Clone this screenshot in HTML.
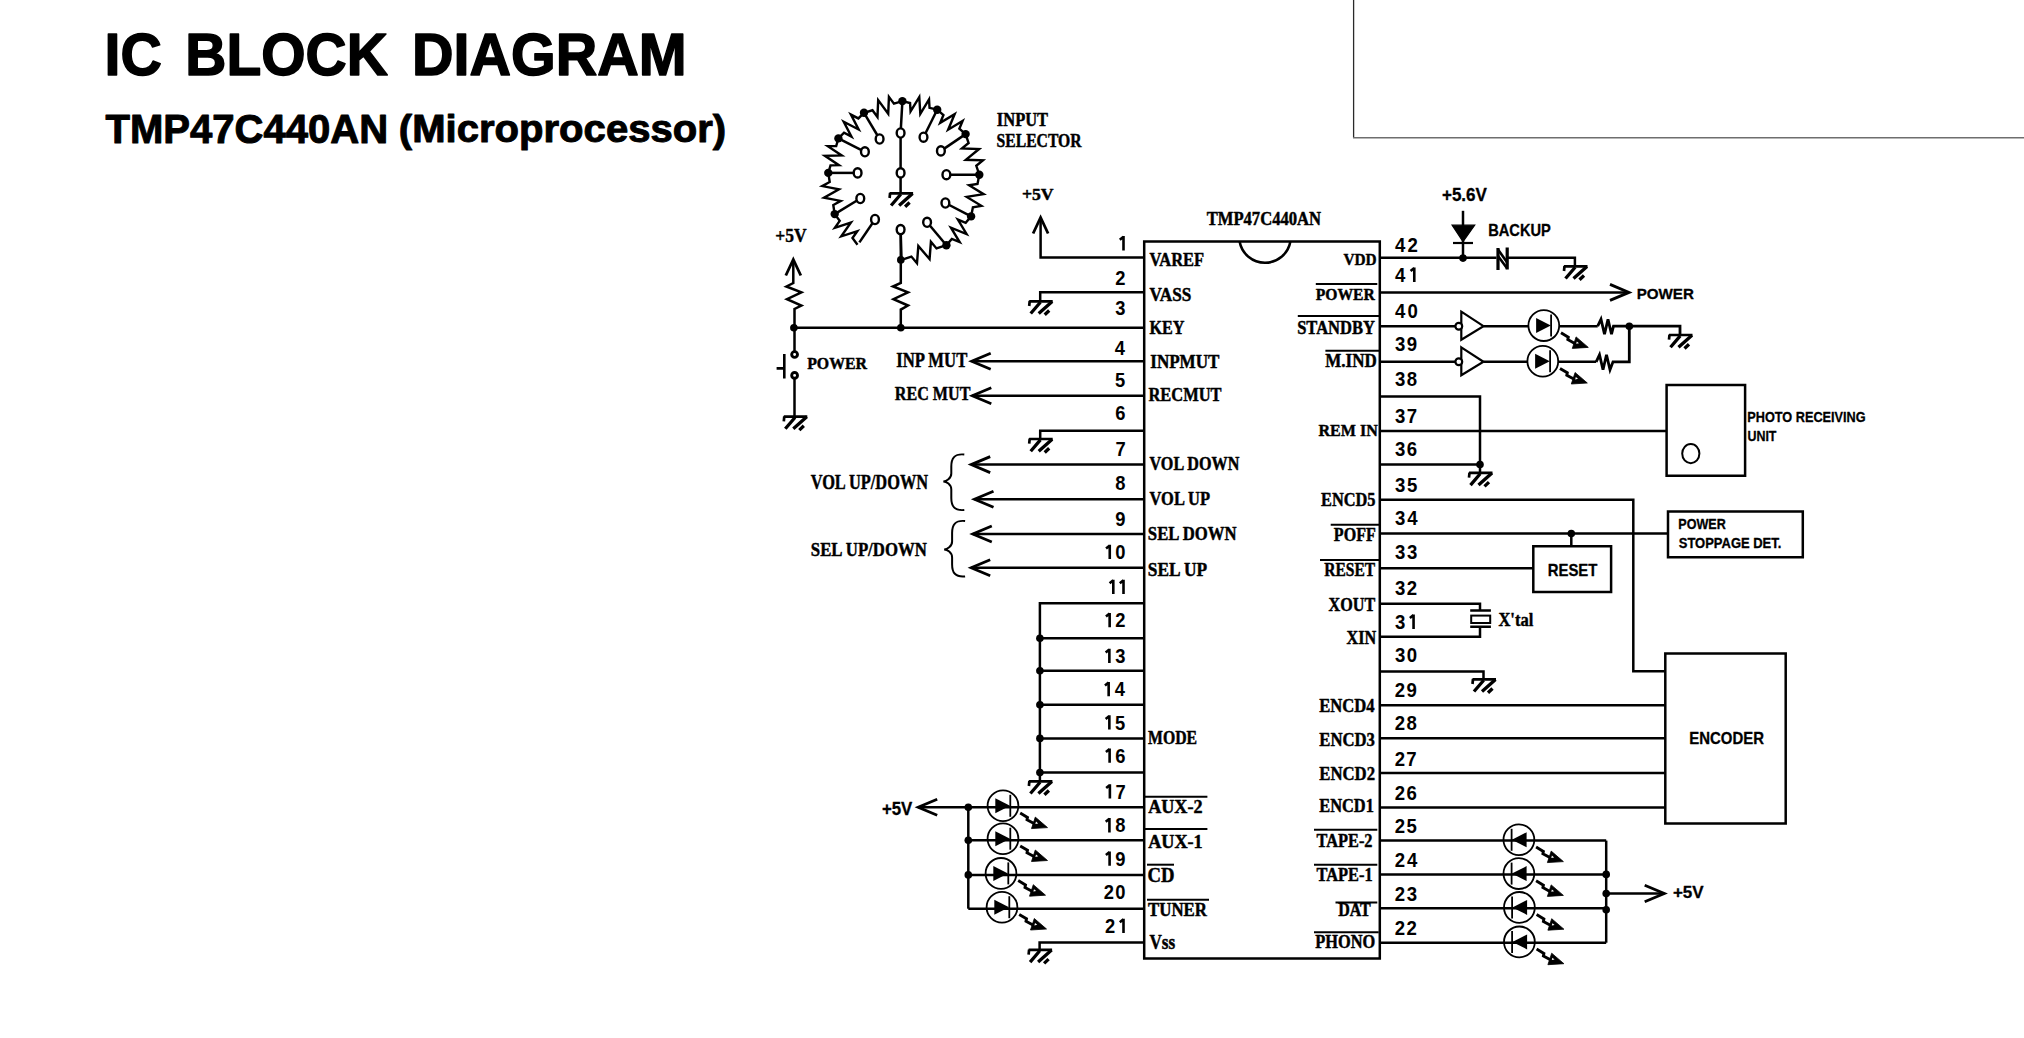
<!DOCTYPE html><html><head><meta charset="utf-8"><style>html,body{margin:0;padding:0;background:#fff;overflow:hidden}svg{display:block}</style></head><body>
<svg width="2024" height="1038" viewBox="0 0 2024 1038">
<rect width="2024" height="1038" fill="#fff"/>
<text transform="translate(104.52,75.15) scale(0.9568,1)" font-family='"Liberation Sans", sans-serif' font-size="59.88" font-weight="bold" fill="#000" stroke="#000" stroke-width="1.5" stroke-linejoin="round">IC</text>
<text transform="translate(185.34,75.15) scale(0.9518,1)" font-family='"Liberation Sans", sans-serif' font-size="59.88" font-weight="bold" fill="#000" stroke="#000" stroke-width="1.5" stroke-linejoin="round">BLOCK</text>
<text transform="translate(412.11,74.65) scale(0.9621,1)" font-family='"Liberation Sans", sans-serif' font-size="59.74" font-weight="bold" fill="#000" stroke="#000" stroke-width="1.5" stroke-linejoin="round">DIAGRAM</text>
<text transform="translate(105.45,142.50) scale(0.9886,1)" font-family='"Liberation Sans", sans-serif' font-size="40.55" font-weight="bold" fill="#000" stroke="#000" stroke-width="1.0" stroke-linejoin="round">TMP47C440AN</text>
<text transform="translate(398.80,141.90) scale(1.0104,1)" font-family='"Liberation Sans", sans-serif' font-size="39.68" font-weight="bold" fill="#000" stroke="#000" stroke-width="1.0" stroke-linejoin="round">(Microprocessor)</text>
<path d="M1353.6,0 V137.8" stroke="#2a2a2a" stroke-width="1.3" fill="none"/>
<path d="M1353,137.8 H2024" stroke="#6e6e6e" stroke-width="1.6" fill="none"/>
<path d="M1144.2,241.5 H1379.8 V958.5 H1144.2 Z" stroke="#000" stroke-width="2.5" fill="none" />
<path d="M1239.6,241.5 A25.8,25.8 0 0 0 1290.4,241.5" stroke="#000" stroke-width="2.5" fill="none" />
<path d="M1119.80,239.70 L1123.50,236.70 M1123.50,236.10 V250.40" stroke="#000" stroke-width="2.6" fill="none"/>
<text transform="translate(1115.32,285.10) scale(0.92,1)" font-family='"Liberation Sans", sans-serif' font-size="19.97" font-weight="bold">2</text>
<text transform="translate(1115.25,314.60) scale(0.92,1)" font-family='"Liberation Sans", sans-serif' font-size="19.97" font-weight="bold">3</text>
<text transform="translate(1114.68,355.30) scale(0.92,1)" font-family='"Liberation Sans", sans-serif' font-size="19.97" font-weight="bold">4</text>
<text transform="translate(1115.09,387.40) scale(0.92,1)" font-family='"Liberation Sans", sans-serif' font-size="19.97" font-weight="bold">5</text>
<text transform="translate(1115.25,420.40) scale(0.92,1)" font-family='"Liberation Sans", sans-serif' font-size="19.97" font-weight="bold">6</text>
<text transform="translate(1115.39,456.00) scale(0.92,1)" font-family='"Liberation Sans", sans-serif' font-size="19.97" font-weight="bold">7</text>
<text transform="translate(1115.15,489.80) scale(0.92,1)" font-family='"Liberation Sans", sans-serif' font-size="19.97" font-weight="bold">8</text>
<text transform="translate(1115.26,526.20) scale(0.92,1)" font-family='"Liberation Sans", sans-serif' font-size="19.97" font-weight="bold">9</text>
<path d="M1106.06,548.40 L1109.76,545.40 M1109.76,544.80 V559.10" stroke="#000" stroke-width="2.6" fill="none"/>
<text transform="translate(1115.33,559.10) scale(0.92,1)" font-family='"Liberation Sans", sans-serif' font-size="19.97" font-weight="bold">0</text>
<path d="M1109.60,583.30 L1113.30,580.30 M1113.30,579.70 V594.00" stroke="#000" stroke-width="2.6" fill="none"/>
<path d="M1119.80,583.30 L1123.50,580.30 M1123.50,579.70 V594.00" stroke="#000" stroke-width="2.6" fill="none"/>
<path d="M1105.95,616.50 L1109.65,613.50 M1109.65,612.90 V627.20" stroke="#000" stroke-width="2.6" fill="none"/>
<text transform="translate(1115.32,627.20) scale(0.92,1)" font-family='"Liberation Sans", sans-serif' font-size="19.97" font-weight="bold">2</text>
<path d="M1105.67,652.40 L1109.37,649.40 M1109.37,648.80 V663.10" stroke="#000" stroke-width="2.6" fill="none"/>
<text transform="translate(1115.25,663.10) scale(0.92,1)" font-family='"Liberation Sans", sans-serif' font-size="19.97" font-weight="bold">3</text>
<path d="M1104.96,685.60 L1108.66,682.60 M1108.66,682.00 V696.30" stroke="#000" stroke-width="2.6" fill="none"/>
<text transform="translate(1114.68,696.30) scale(0.92,1)" font-family='"Liberation Sans", sans-serif' font-size="19.97" font-weight="bold">4</text>
<path d="M1105.66,718.90 L1109.36,715.90 M1109.36,715.30 V729.60" stroke="#000" stroke-width="2.6" fill="none"/>
<text transform="translate(1115.09,729.60) scale(0.92,1)" font-family='"Liberation Sans", sans-serif' font-size="19.97" font-weight="bold">5</text>
<path d="M1105.92,752.10 L1109.62,749.10 M1109.62,748.50 V762.80" stroke="#000" stroke-width="2.6" fill="none"/>
<text transform="translate(1115.25,762.80) scale(0.92,1)" font-family='"Liberation Sans", sans-serif' font-size="19.97" font-weight="bold">6</text>
<path d="M1106.18,787.90 L1109.88,784.90 M1109.88,784.30 V798.60" stroke="#000" stroke-width="2.6" fill="none"/>
<text transform="translate(1115.39,798.60) scale(0.92,1)" font-family='"Liberation Sans", sans-serif' font-size="19.97" font-weight="bold">7</text>
<path d="M1105.73,821.70 L1109.43,818.70 M1109.43,818.10 V832.40" stroke="#000" stroke-width="2.6" fill="none"/>
<text transform="translate(1115.15,832.40) scale(0.92,1)" font-family='"Liberation Sans", sans-serif' font-size="19.97" font-weight="bold">8</text>
<path d="M1105.90,855.10 L1109.60,852.10 M1109.60,851.50 V865.80" stroke="#000" stroke-width="2.6" fill="none"/>
<text transform="translate(1115.26,865.80) scale(0.92,1)" font-family='"Liberation Sans", sans-serif' font-size="19.97" font-weight="bold">9</text>
<text transform="translate(1103.78,899.20) scale(0.92,1)" font-family='"Liberation Sans", sans-serif' font-size="19.97" font-weight="bold">2</text>
<text transform="translate(1115.33,899.20) scale(0.92,1)" font-family='"Liberation Sans", sans-serif' font-size="19.97" font-weight="bold">0</text>
<text transform="translate(1105.12,933.00) scale(0.92,1)" font-family='"Liberation Sans", sans-serif' font-size="19.97" font-weight="bold">2</text>
<path d="M1119.80,922.30 L1123.50,919.30 M1123.50,918.70 V933.00" stroke="#000" stroke-width="2.6" fill="none"/>
<text transform="translate(1395.12,251.70) scale(0.92,1)" font-family='"Liberation Sans", sans-serif' font-size="20.25" font-weight="bold">4</text>
<text transform="translate(1407.53,251.70) scale(0.92,1)" font-family='"Liberation Sans", sans-serif' font-size="20.25" font-weight="bold">2</text>
<text transform="translate(1395.12,282.00) scale(0.92,1)" font-family='"Liberation Sans", sans-serif' font-size="20.25" font-weight="bold">4</text>
<path d="M1410.58,271.10 L1414.28,268.10 M1414.28,267.50 V282.00" stroke="#000" stroke-width="2.6" fill="none"/>
<text transform="translate(1395.12,318.40) scale(0.92,1)" font-family='"Liberation Sans", sans-serif' font-size="20.25" font-weight="bold">4</text>
<text transform="translate(1407.44,318.40) scale(0.92,1)" font-family='"Liberation Sans", sans-serif' font-size="20.25" font-weight="bold">0</text>
<text transform="translate(1394.97,351.40) scale(0.92,1)" font-family='"Liberation Sans", sans-serif' font-size="20.25" font-weight="bold">3</text>
<text transform="translate(1406.82,351.40) scale(0.92,1)" font-family='"Liberation Sans", sans-serif' font-size="20.25" font-weight="bold">9</text>
<text transform="translate(1394.97,386.00) scale(0.92,1)" font-family='"Liberation Sans", sans-serif' font-size="20.25" font-weight="bold">3</text>
<text transform="translate(1406.87,386.00) scale(0.92,1)" font-family='"Liberation Sans", sans-serif' font-size="20.25" font-weight="bold">8</text>
<text transform="translate(1394.97,423.40) scale(0.92,1)" font-family='"Liberation Sans", sans-serif' font-size="20.25" font-weight="bold">3</text>
<text transform="translate(1406.66,423.40) scale(0.92,1)" font-family='"Liberation Sans", sans-serif' font-size="20.25" font-weight="bold">7</text>
<text transform="translate(1394.97,456.00) scale(0.92,1)" font-family='"Liberation Sans", sans-serif' font-size="20.25" font-weight="bold">3</text>
<text transform="translate(1406.78,456.00) scale(0.92,1)" font-family='"Liberation Sans", sans-serif' font-size="20.25" font-weight="bold">6</text>
<text transform="translate(1394.97,491.50) scale(0.92,1)" font-family='"Liberation Sans", sans-serif' font-size="20.25" font-weight="bold">3</text>
<text transform="translate(1406.89,491.50) scale(0.92,1)" font-family='"Liberation Sans", sans-serif' font-size="20.25" font-weight="bold">5</text>
<text transform="translate(1394.97,524.80) scale(0.92,1)" font-family='"Liberation Sans", sans-serif' font-size="20.25" font-weight="bold">3</text>
<text transform="translate(1407.18,524.80) scale(0.92,1)" font-family='"Liberation Sans", sans-serif' font-size="20.25" font-weight="bold">4</text>
<text transform="translate(1394.97,559.10) scale(0.92,1)" font-family='"Liberation Sans", sans-serif' font-size="20.25" font-weight="bold">3</text>
<text transform="translate(1407.03,559.10) scale(0.92,1)" font-family='"Liberation Sans", sans-serif' font-size="20.25" font-weight="bold">3</text>
<text transform="translate(1394.97,594.60) scale(0.92,1)" font-family='"Liberation Sans", sans-serif' font-size="20.25" font-weight="bold">3</text>
<text transform="translate(1406.82,594.60) scale(0.92,1)" font-family='"Liberation Sans", sans-serif' font-size="20.25" font-weight="bold">2</text>
<text transform="translate(1394.97,629.00) scale(0.92,1)" font-family='"Liberation Sans", sans-serif' font-size="20.25" font-weight="bold">3</text>
<path d="M1409.86,618.10 L1413.56,615.10 M1413.56,614.50 V629.00" stroke="#000" stroke-width="2.6" fill="none"/>
<text transform="translate(1394.97,661.90) scale(0.92,1)" font-family='"Liberation Sans", sans-serif' font-size="20.25" font-weight="bold">3</text>
<text transform="translate(1406.72,661.90) scale(0.92,1)" font-family='"Liberation Sans", sans-serif' font-size="20.25" font-weight="bold">0</text>
<text transform="translate(1394.75,696.60) scale(0.92,1)" font-family='"Liberation Sans", sans-serif' font-size="20.25" font-weight="bold">2</text>
<text transform="translate(1406.52,696.60) scale(0.92,1)" font-family='"Liberation Sans", sans-serif' font-size="20.25" font-weight="bold">9</text>
<text transform="translate(1394.75,729.50) scale(0.92,1)" font-family='"Liberation Sans", sans-serif' font-size="20.25" font-weight="bold">2</text>
<text transform="translate(1406.58,729.50) scale(0.92,1)" font-family='"Liberation Sans", sans-serif' font-size="20.25" font-weight="bold">8</text>
<text transform="translate(1394.75,766.00) scale(0.92,1)" font-family='"Liberation Sans", sans-serif' font-size="20.25" font-weight="bold">2</text>
<text transform="translate(1406.37,766.00) scale(0.92,1)" font-family='"Liberation Sans", sans-serif' font-size="20.25" font-weight="bold">7</text>
<text transform="translate(1394.75,799.50) scale(0.92,1)" font-family='"Liberation Sans", sans-serif' font-size="20.25" font-weight="bold">2</text>
<text transform="translate(1406.49,799.50) scale(0.92,1)" font-family='"Liberation Sans", sans-serif' font-size="20.25" font-weight="bold">6</text>
<text transform="translate(1394.75,832.80) scale(0.92,1)" font-family='"Liberation Sans", sans-serif' font-size="20.25" font-weight="bold">2</text>
<text transform="translate(1406.60,832.80) scale(0.92,1)" font-family='"Liberation Sans", sans-serif' font-size="20.25" font-weight="bold">5</text>
<text transform="translate(1394.75,867.00) scale(0.92,1)" font-family='"Liberation Sans", sans-serif' font-size="20.25" font-weight="bold">2</text>
<text transform="translate(1406.89,867.00) scale(0.92,1)" font-family='"Liberation Sans", sans-serif' font-size="20.25" font-weight="bold">4</text>
<text transform="translate(1394.75,901.00) scale(0.92,1)" font-family='"Liberation Sans", sans-serif' font-size="20.25" font-weight="bold">2</text>
<text transform="translate(1406.74,901.00) scale(0.92,1)" font-family='"Liberation Sans", sans-serif' font-size="20.25" font-weight="bold">3</text>
<text transform="translate(1394.75,934.60) scale(0.92,1)" font-family='"Liberation Sans", sans-serif' font-size="20.25" font-weight="bold">2</text>
<text transform="translate(1406.52,934.60) scale(0.92,1)" font-family='"Liberation Sans", sans-serif' font-size="20.25" font-weight="bold">2</text>
<text transform="translate(1206.67,224.78) scale(0.9179,1)" font-family='"Liberation Serif", serif' font-size="18.10" font-weight="bold" fill="#000" stroke="#000" stroke-width="0.45" stroke-linejoin="round">TMP47C440AN</text>
<text transform="translate(1149.54,266.47) scale(0.8803,1)" font-family='"Liberation Serif", serif' font-size="18.71" font-weight="bold" fill="#000" stroke="#000" stroke-width="0.45" stroke-linejoin="round">VAREF</text>
<text transform="translate(1149.53,301.47) scale(0.9194,1)" font-family='"Liberation Serif", serif' font-size="18.71" font-weight="bold" fill="#000" stroke="#000" stroke-width="0.45" stroke-linejoin="round">VASS</text>
<text transform="translate(1149.45,334.27) scale(0.8667,1)" font-family='"Liberation Serif", serif' font-size="18.71" font-weight="bold" fill="#000" stroke="#000" stroke-width="0.45" stroke-linejoin="round">KEY</text>
<text transform="translate(1150.25,368.17) scale(0.9119,1)" font-family='"Liberation Serif", serif' font-size="18.71" font-weight="bold" fill="#000" stroke="#000" stroke-width="0.45" stroke-linejoin="round">INPMUT</text>
<text transform="translate(1148.44,401.07) scale(0.8801,1)" font-family='"Liberation Serif", serif' font-size="18.71" font-weight="bold" fill="#000" stroke="#000" stroke-width="0.45" stroke-linejoin="round">RECMUT</text>
<text transform="translate(1149.54,470.47) scale(0.8630,1)" font-family='"Liberation Serif", serif' font-size="18.71" font-weight="bold" fill="#000" stroke="#000" stroke-width="0.45" stroke-linejoin="round">VOL DOWN</text>
<text transform="translate(1149.54,505.47) scale(0.8795,1)" font-family='"Liberation Serif", serif' font-size="18.71" font-weight="bold" fill="#000" stroke="#000" stroke-width="0.45" stroke-linejoin="round">VOL UP</text>
<text transform="translate(1147.84,540.38) scale(0.9011,1)" font-family='"Liberation Serif", serif' font-size="18.56" font-weight="bold" fill="#000" stroke="#000" stroke-width="0.45" stroke-linejoin="round">SEL DOWN</text>
<text transform="translate(1147.80,576.38) scale(0.9351,1)" font-family='"Liberation Serif", serif' font-size="18.56" font-weight="bold" fill="#000" stroke="#000" stroke-width="0.45" stroke-linejoin="round">SEL UP</text>
<text transform="translate(1148.06,744.48) scale(0.8876,1)" font-family='"Liberation Serif", serif' font-size="17.79" font-weight="bold" fill="#000" stroke="#000" stroke-width="0.45" stroke-linejoin="round">MODE</text>
<text transform="translate(1148.15,813.27) scale(1.0195,1)" font-family='"Liberation Serif", serif' font-size="17.79" font-weight="bold" fill="#000" stroke="#000" stroke-width="0.45" stroke-linejoin="round">AUX-2</text>
<text transform="translate(1148.15,848.38) scale(1.0138,1)" font-family='"Liberation Serif", serif' font-size="17.94" font-weight="bold" fill="#000" stroke="#000" stroke-width="0.45" stroke-linejoin="round">AUX-1</text>
<text transform="translate(1147.41,882.07) scale(0.9370,1)" font-family='"Liberation Serif", serif' font-size="19.93" font-weight="bold" fill="#000" stroke="#000" stroke-width="0.45" stroke-linejoin="round">CD</text>
<text transform="translate(1148.06,915.77) scale(0.9387,1)" font-family='"Liberation Serif", serif' font-size="17.94" font-weight="bold" fill="#000" stroke="#000" stroke-width="0.45" stroke-linejoin="round">TUNER</text>
<text transform="translate(1149.43,949.48) scale(0.8615,1)" font-family='"Liberation Serif", serif' font-size="19.93" font-weight="bold" fill="#000" stroke="#000" stroke-width="0.45" stroke-linejoin="round">Vss</text>
<text transform="translate(1343.45,265.47) scale(0.8939,1)" font-family='"Liberation Serif", serif' font-size="17.18" font-weight="bold" fill="#000" stroke="#000" stroke-width="0.45" stroke-linejoin="round">VDD</text>
<text transform="translate(1315.76,300.38) scale(0.9184,1)" font-family='"Liberation Serif", serif' font-size="17.03" font-weight="bold" fill="#000" stroke="#000" stroke-width="0.45" stroke-linejoin="round">POWER</text>
<text transform="translate(1297.14,334.27) scale(0.8853,1)" font-family='"Liberation Serif", serif' font-size="18.71" font-weight="bold" fill="#000" stroke="#000" stroke-width="0.45" stroke-linejoin="round">STANDBY</text>
<text transform="translate(1325.33,367.17) scale(0.9088,1)" font-family='"Liberation Serif", serif' font-size="18.71" font-weight="bold" fill="#000" stroke="#000" stroke-width="0.45" stroke-linejoin="round">M.IND</text>
<text transform="translate(1318.45,436.17) scale(0.9348,1)" font-family='"Liberation Serif", serif' font-size="17.18" font-weight="bold" fill="#000" stroke="#000" stroke-width="0.45" stroke-linejoin="round">REM IN</text>
<text transform="translate(1321.05,506.47) scale(0.8744,1)" font-family='"Liberation Serif", serif' font-size="18.71" font-weight="bold" fill="#000" stroke="#000" stroke-width="0.45" stroke-linejoin="round">ENCD5</text>
<text transform="translate(1333.85,541.48) scale(0.8578,1)" font-family='"Liberation Serif", serif' font-size="18.71" font-weight="bold" fill="#000" stroke="#000" stroke-width="0.45" stroke-linejoin="round">POFF</text>
<text transform="translate(1324.26,576.38) scale(0.8373,1)" font-family='"Liberation Serif", serif' font-size="18.56" font-weight="bold" fill="#000" stroke="#000" stroke-width="0.45" stroke-linejoin="round">RESET</text>
<text transform="translate(1328.53,611.38) scale(0.8710,1)" font-family='"Liberation Serif", serif' font-size="18.56" font-weight="bold" fill="#000" stroke="#000" stroke-width="0.45" stroke-linejoin="round">XOUT</text>
<text transform="translate(1346.52,644.17) scale(0.8648,1)" font-family='"Liberation Serif", serif' font-size="18.71" font-weight="bold" fill="#000" stroke="#000" stroke-width="0.45" stroke-linejoin="round">XIN</text>
<text transform="translate(1319.24,712.17) scale(0.9268,1)" font-family='"Liberation Serif", serif' font-size="17.94" font-weight="bold" fill="#000" stroke="#000" stroke-width="0.45" stroke-linejoin="round">ENCD4</text>
<text transform="translate(1319.24,745.88) scale(0.9392,1)" font-family='"Liberation Serif", serif' font-size="17.79" font-weight="bold" fill="#000" stroke="#000" stroke-width="0.45" stroke-linejoin="round">ENCD3</text>
<text transform="translate(1319.24,779.57) scale(0.9338,1)" font-family='"Liberation Serif", serif' font-size="17.94" font-weight="bold" fill="#000" stroke="#000" stroke-width="0.45" stroke-linejoin="round">ENCD2</text>
<text transform="translate(1319.24,811.88) scale(0.9219,1)" font-family='"Liberation Serif", serif' font-size="17.79" font-weight="bold" fill="#000" stroke="#000" stroke-width="0.45" stroke-linejoin="round">ENCD1</text>
<text transform="translate(1316.57,846.98) scale(0.9109,1)" font-family='"Liberation Serif", serif' font-size="17.94" font-weight="bold" fill="#000" stroke="#000" stroke-width="0.45" stroke-linejoin="round">TAPE-2</text>
<text transform="translate(1316.57,880.77) scale(0.9132,1)" font-family='"Liberation Serif", serif' font-size="17.94" font-weight="bold" fill="#000" stroke="#000" stroke-width="0.45" stroke-linejoin="round">TAPE-1</text>
<text transform="translate(1338.14,915.77) scale(0.8941,1)" font-family='"Liberation Serif", serif' font-size="17.94" font-weight="bold" fill="#000" stroke="#000" stroke-width="0.45" stroke-linejoin="round">DAT</text>
<text transform="translate(1315.25,948.07) scale(0.9186,1)" font-family='"Liberation Serif", serif' font-size="17.79" font-weight="bold" fill="#000" stroke="#000" stroke-width="0.45" stroke-linejoin="round">PHONO</text>
<path d="M1144.5,796.8 H1207.4" stroke="#000" stroke-width="2.0" fill="none" />
<path d="M1144.5,829.1 H1207.4" stroke="#000" stroke-width="2.0" fill="none" />
<path d="M1147,864.7 H1174" stroke="#000" stroke-width="2.0" fill="none" />
<path d="M1147,899.8 H1209" stroke="#000" stroke-width="2.0" fill="none" />
<path d="M1315.8,284.1 H1377.3" stroke="#000" stroke-width="2.0" fill="none" />
<path d="M1297.8,316.1 H1379.4" stroke="#000" stroke-width="2.0" fill="none" />
<path d="M1325.4,350.8 H1379.4" stroke="#000" stroke-width="2.0" fill="none" />
<path d="M1330.7,524.7 H1379.8" stroke="#000" stroke-width="2.0" fill="none" />
<path d="M1320,560.1 H1379.8" stroke="#000" stroke-width="2.0" fill="none" />
<path d="M1314,829.7 H1377.3" stroke="#000" stroke-width="2.0" fill="none" />
<path d="M1314,864.7 H1377.3" stroke="#000" stroke-width="2.0" fill="none" />
<path d="M1335.5,902.5 H1377.3" stroke="#000" stroke-width="2.0" fill="none" />
<path d="M1314,932.2 H1378.7" stroke="#000" stroke-width="2.0" fill="none" />
<path d="M1040.6,219 V257.5 H1144.2" stroke="#000" stroke-width="2.5" fill="none" />
<path d="M1033.1,233.5 L1040.6,217.5 L1048.1,233.5" stroke="#000" stroke-width="2.8" fill="none" />
<text transform="translate(1021.89,200.47) scale(1.0510,1)" font-family='"Liberation Serif", serif' font-size="16.88" font-weight="bold" fill="#000" stroke="#000" stroke-width="0.45" stroke-linejoin="round">+5V</text>
<path d="M1144.2,292.2 H1040.2 V301" stroke="#000" stroke-width="2.5" fill="none" />
<path d="M1029.2,301.3 H1052.7 M1029.7,301 L1029.2,306" stroke="#000" stroke-width="2.7" fill="none" />
<path d="M1030.7,313.5 L1040.4,302.2 M1038.7,313.5 L1052.2,301.5 M1044.7,314.8 L1049.2,310.5" stroke="#000" stroke-width="3.3" fill="none" />
<path d="M793.9,327.8 H1144.2" stroke="#000" stroke-width="2.5" fill="none" />
<path d="M971.7,361.2 H1144.2" stroke="#000" stroke-width="2.5" fill="none" />
<path d="M990.7,353.2 L971.7,361.2 L990.7,369.2" stroke="#000" stroke-width="2.8" fill="none" stroke-linejoin="miter"/>
<path d="M972.3,395.7 H1144.2" stroke="#000" stroke-width="2.5" fill="none" />
<path d="M991.3,387.7 L972.3,395.7 L991.3,403.7" stroke="#000" stroke-width="2.8" fill="none" stroke-linejoin="miter"/>
<text transform="translate(896.26,366.97) scale(0.8138,1)" font-family='"Liberation Serif", serif' font-size="20.54" font-weight="bold" fill="#000" stroke="#000" stroke-width="0.45" stroke-linejoin="round">INP MUT</text>
<text transform="translate(894.75,400.47) scale(0.8225,1)" font-family='"Liberation Serif", serif' font-size="19.62" font-weight="bold" fill="#000" stroke="#000" stroke-width="0.45" stroke-linejoin="round">REC MUT</text>
<path d="M1144.2,430.8 H1040.2 V438.7" stroke="#000" stroke-width="2.5" fill="none" />
<path d="M1029.2,439.0 H1052.7 M1029.7,438.7 L1029.2,443.7" stroke="#000" stroke-width="2.7" fill="none" />
<path d="M1030.7,451.2 L1040.4,439.9 M1038.7,451.2 L1052.2,439.2 M1044.7,452.5 L1049.2,448.2" stroke="#000" stroke-width="3.3" fill="none" />
<path d="M971.2,464.6 H1144.2" stroke="#000" stroke-width="2.5" fill="none" />
<path d="M990.2,456.6 L971.2,464.6 L990.2,472.6" stroke="#000" stroke-width="2.8" fill="none" stroke-linejoin="miter"/>
<path d="M974.5,499.3 H1144.2" stroke="#000" stroke-width="2.5" fill="none" />
<path d="M993.5,491.3 L974.5,499.3 L993.5,507.3" stroke="#000" stroke-width="2.8" fill="none" stroke-linejoin="miter"/>
<path d="M972.8,534.0 H1144.2" stroke="#000" stroke-width="2.5" fill="none" />
<path d="M991.8,526.0 L972.8,534.0 L991.8,542.0" stroke="#000" stroke-width="2.8" fill="none" stroke-linejoin="miter"/>
<path d="M971.2,567.8 H1144.2" stroke="#000" stroke-width="2.5" fill="none" />
<path d="M990.2,559.8 L971.2,567.8 L990.2,575.8" stroke="#000" stroke-width="2.8" fill="none" stroke-linejoin="miter"/>
<text transform="translate(810.64,489.38) scale(0.7974,1)" font-family='"Liberation Serif", serif' font-size="20.54" font-weight="bold" fill="#000" stroke="#000" stroke-width="0.45" stroke-linejoin="round">VOL UP/DOWN</text>
<text transform="translate(810.83,555.77) scale(0.8682,1)" font-family='"Liberation Serif", serif' font-size="19.32" font-weight="bold" fill="#000" stroke="#000" stroke-width="0.45" stroke-linejoin="round">SEL UP/DOWN</text>
<path d="M964.3,454.5 C954.3,453.5 951.3,458.5 951.3,466.5 V473.4 C951.3,478.4 946.3,481.4 943.3,481.4 C946.3,481.4 951.3,484.4 951.3,489.4 V498 C951.3,506 954.3,511 964.3,510" stroke="#000" stroke-width="2.0" fill="none" />
<path d="M965.1,521 C955.1,520 952.1,525 952.1,533 V541.4 C952.1,546.4 947.1,549.4 944.1,549.4 C947.1,549.4 952.1,552.4 952.1,557.4 V564.4 C952.1,572.4 955.1,577.4 965.1,576.4" stroke="#000" stroke-width="2.0" fill="none" />
<path d="M1144.2,603.2 H1039.9 V780.5" stroke="#000" stroke-width="2.5" fill="none" />
<path d="M1039.9,638.2 H1144.2" stroke="#000" stroke-width="2.5" fill="none" />
<circle cx="1039.90" cy="638.20" r="3.8" fill="#000"/>
<path d="M1039.9,670.8 H1144.2" stroke="#000" stroke-width="2.5" fill="none" />
<circle cx="1039.90" cy="670.80" r="3.8" fill="#000"/>
<path d="M1039.9,704.7 H1144.2" stroke="#000" stroke-width="2.5" fill="none" />
<circle cx="1039.90" cy="704.70" r="3.8" fill="#000"/>
<path d="M1039.9,738.4 H1144.2" stroke="#000" stroke-width="2.5" fill="none" />
<circle cx="1039.90" cy="738.40" r="3.8" fill="#000"/>
<path d="M1039.9,772.6 H1144.2" stroke="#000" stroke-width="2.5" fill="none" />
<circle cx="1039.90" cy="772.60" r="3.8" fill="#000"/>
<path d="M1028.9,781.3 H1052.4 M1029.4,781 L1028.9,786" stroke="#000" stroke-width="2.7" fill="none" />
<path d="M1030.4,793.5 L1040.1000000000001,782.2 M1038.4,793.5 L1051.9,781.5 M1044.4,794.8 L1048.9,790.5" stroke="#000" stroke-width="3.3" fill="none" />
<path d="M918.2,807.3 H1144.2" stroke="#000" stroke-width="2.5" fill="none" />
<path d="M937.2,799.3 L918.2,807.3 L937.2,815.3" stroke="#000" stroke-width="2.8" fill="none" stroke-linejoin="miter"/>
<text transform="translate(881.94,814.55) scale(0.9493,1)" font-family='"Liberation Sans", sans-serif' font-size="17.73" font-weight="bold" fill="#000" stroke="#000" stroke-width="0.3" stroke-linejoin="round">+5V</text>
<path d="M968.3,807.3 V908.7" stroke="#000" stroke-width="2.5" fill="none" />
<circle cx="968.30" cy="807.30" r="3.8" fill="#000"/>
<circle cx="968.30" cy="840.20" r="3.8" fill="#000"/>
<circle cx="968.30" cy="874.90" r="3.8" fill="#000"/>
<path d="M968.3,840.2 H1144.2" stroke="#000" stroke-width="2.5" fill="none" />
<path d="M968.3,874.9 H1144.2" stroke="#000" stroke-width="2.5" fill="none" />
<path d="M968.3,908.7 H1144.2" stroke="#000" stroke-width="2.5" fill="none" />
<circle cx="1003.00" cy="805.80" r="15.4" fill="none" stroke="#000" stroke-width="1.8"/>
<path d="M995.3,798.3 L1010,805.8 L995.3,813.3 Z" fill="#000"/>
<path d="M1010.3,794.8 V816.8" stroke="#000" stroke-width="1.8" fill="none" />
<path d="M1020.2,813.0 L1027.5,817.4 L1027,819.8 L1034,823.5999999999999" stroke="#000" stroke-width="2.9" fill="none" />
<path d="M1047.5,827.5999999999999 L1035.3,817.0999999999999 L1031.5,828.5999999999999 Z" fill="#000" stroke="#000" stroke-width="0.8" stroke-linejoin="round"/>
<path d="M1038.2,823.4 L1036,821.5999999999999 L1035.4,824.0 Z" fill="#fff"/>
<circle cx="1003.00" cy="838.70" r="15.4" fill="none" stroke="#000" stroke-width="1.8"/>
<path d="M995.3,831.2 L1010,838.7 L995.3,846.2 Z" fill="#000"/>
<path d="M1010.3,827.7 V849.7" stroke="#000" stroke-width="1.8" fill="none" />
<path d="M1020.2,845.9000000000001 L1027.5,850.3000000000001 L1027,852.7 L1034,856.5" stroke="#000" stroke-width="2.9" fill="none" />
<path d="M1047.5,860.5 L1035.3,850.0 L1031.5,861.5 Z" fill="#000" stroke="#000" stroke-width="0.8" stroke-linejoin="round"/>
<path d="M1038.2,856.3000000000001 L1036,854.5 L1035.4,856.9000000000001 Z" fill="#fff"/>
<circle cx="1001.00" cy="873.40" r="15.4" fill="none" stroke="#000" stroke-width="1.8"/>
<path d="M993.3,865.9 L1008,873.4 L993.3,880.9 Z" fill="#000"/>
<path d="M1008.3,862.4 V884.4" stroke="#000" stroke-width="1.8" fill="none" />
<path d="M1018.2,880.6 L1025.5,885.0 L1025,887.4 L1032,891.1999999999999" stroke="#000" stroke-width="2.9" fill="none" />
<path d="M1045.5,895.1999999999999 L1033.3,884.6999999999999 L1029.5,896.1999999999999 Z" fill="#000" stroke="#000" stroke-width="0.8" stroke-linejoin="round"/>
<path d="M1036.2,891.0 L1034,889.1999999999999 L1033.4,891.6 Z" fill="#fff"/>
<circle cx="1002.00" cy="907.20" r="15.4" fill="none" stroke="#000" stroke-width="1.8"/>
<path d="M994.3,899.7 L1009,907.2 L994.3,914.7 Z" fill="#000"/>
<path d="M1009.3,896.2 V918.2" stroke="#000" stroke-width="1.8" fill="none" />
<path d="M1019.2,914.4000000000001 L1026.5,918.8000000000001 L1026,921.2 L1033,925.0" stroke="#000" stroke-width="2.9" fill="none" />
<path d="M1046.5,929.0 L1034.3,918.5 L1030.5,930.0 Z" fill="#000" stroke="#000" stroke-width="0.8" stroke-linejoin="round"/>
<path d="M1037.2,924.8000000000001 L1035,923.0 L1034.4,925.4000000000001 Z" fill="#fff"/>
<path d="M1144.2,942.5 H1039.6 V949.6" stroke="#000" stroke-width="2.5" fill="none" />
<path d="M1028.6,949.9 H1052.1 M1029.1,949.6 L1028.6,954.6" stroke="#000" stroke-width="2.7" fill="none" />
<path d="M1030.1,962.1 L1039.8,950.8000000000001 M1038.1,962.1 L1051.6,950.1 M1044.1,963.4 L1048.6,959.1" stroke="#000" stroke-width="3.3" fill="none" />
<path d="M793.3,261 V283 L786.4,286.5 L801.4,292.3 L787,299.2 L801.4,305.5 L794.5,309 V327.8 V351.5" stroke="#000" stroke-width="2.5" fill="none" />
<path d="M785.8,275.5 L793.3,259.5 L800.8,275.5" stroke="#000" stroke-width="2.8" fill="none" />
<text transform="translate(775.30,241.78) scale(0.9103,1)" font-family='"Liberation Serif", serif' font-size="19.17" font-weight="bold" fill="#000" stroke="#000" stroke-width="0.45" stroke-linejoin="round">+5V</text>
<circle cx="793.90" cy="327.80" r="3.8" fill="#000"/>
<path d="M794.5,375.4 V416.3" stroke="#000" stroke-width="2.5" fill="none" />
<path d="M783.8,416.6 H807.3 M784.3,416.3 L783.8,421.3" stroke="#000" stroke-width="2.7" fill="none" />
<path d="M785.3,428.8 L795.0,417.5 M793.3,428.8 L806.8,416.8 M799.3,430.1 L803.8,425.8" stroke="#000" stroke-width="3.3" fill="none" />
<circle cx="794.60" cy="354.50" r="2.9" fill="#fff" stroke="#000" stroke-width="2.9"/>
<circle cx="794.60" cy="375.40" r="2.9" fill="#fff" stroke="#000" stroke-width="2.9"/>
<path d="M776.6,368.4 H784.3 M784.3,354 V378.5" stroke="#000" stroke-width="2.6" fill="none" />
<text transform="translate(807.15,369.47) scale(0.9377,1)" font-family='"Liberation Serif", serif' font-size="16.88" font-weight="bold" fill="#000" stroke="#000" stroke-width="0.45" stroke-linejoin="round">POWER</text>
<path d="M900.8,234 V283 L893,286.5 L908,292.3 L893.5,299.2 L908,305.5 L900.8,309.6 V327.8" stroke="#000" stroke-width="2.5" fill="none" />
<circle cx="900.80" cy="327.80" r="3.8" fill="#000"/>
<circle cx="900.80" cy="259.90" r="3.8" fill="#000"/>
<text transform="translate(996.87,125.98) scale(0.9085,1)" font-family='"Liberation Serif", serif' font-size="18.10" font-weight="bold" fill="#000" stroke="#000" stroke-width="0.45" stroke-linejoin="round">INPUT</text>
<text transform="translate(996.59,147.28) scale(0.8659,1)" font-family='"Liberation Serif", serif' font-size="18.10" font-weight="bold" fill="#000" stroke="#000" stroke-width="0.45" stroke-linejoin="round">SELECTOR</text>
<path d="M901.50,259.80 L911.38,256.59 L916.99,263.17 L918.33,245.91 L929.57,259.09 L930.91,241.83 L936.52,248.41 L946.40,245.20" stroke="#000" stroke-width="2.4" fill="none" />
<path d="M946.40,245.20 L951.83,238.86 L959.64,242.06 L950.95,227.61 L966.55,233.99 L957.86,219.54 L965.67,222.74 L971.10,216.40" stroke="#000" stroke-width="2.4" fill="none" />
<path d="M971.10,216.40 L972.90,207.23 L981.33,205.85 L966.78,196.93 L983.62,194.17 L969.07,185.25 L977.50,183.87 L979.30,174.70" stroke="#000" stroke-width="2.4" fill="none" />
<path d="M979.30,174.70 L976.29,165.77 L982.91,160.37 L965.83,159.80 L979.07,149.00 L961.99,148.43 L968.61,143.03 L965.60,134.10" stroke="#000" stroke-width="2.4" fill="none" />
<path d="M965.60,134.10 L959.35,128.73 L962.58,120.96 L948.17,129.68 L954.63,114.12 L940.22,122.84 L943.45,115.07 L937.20,109.70" stroke="#000" stroke-width="2.4" fill="none" />
<path d="M937.20,109.70 L929.54,107.81 L929.03,99.44 L920.32,113.77 L919.28,97.03 L910.57,111.36 L910.06,102.99 L902.40,101.10" stroke="#000" stroke-width="2.4" fill="none" />
<path d="M902.40,101.10 L893.95,103.67 L888.93,96.84 L888.22,113.78 L878.18,100.12 L877.47,117.06 L872.45,110.23 L864.00,112.80" stroke="#000" stroke-width="2.4" fill="none" />
<path d="M864.00,112.80 L858.37,118.43 L850.92,114.57 L858.65,129.46 L843.75,121.74 L851.48,136.63 L844.03,132.77 L838.40,138.40" stroke="#000" stroke-width="2.4" fill="none" />
<path d="M838.40,138.40 L836.18,145.99 L827.79,146.16 L841.73,155.48 L824.97,155.82 L838.91,165.14 L830.52,165.31 L828.30,172.90" stroke="#000" stroke-width="2.4" fill="none" />
<path d="M828.30,172.90 L829.71,181.96 L822.25,186.08 L838.96,189.39 L824.04,197.61 L840.75,200.92 L833.29,205.04 L834.70,214.10" stroke="#000" stroke-width="2.4" fill="none" />
<path d="M834.70,214.10 L839.72,220.85 L834.89,227.77 L850.93,222.53 L841.27,236.37 L857.31,231.13 L852.48,238.05 L857.50,244.80" stroke="#000" stroke-width="2.4" fill="none" />
<circle cx="946.40" cy="245.20" r="4.2" fill="#000"/>
<circle cx="971.10" cy="216.40" r="4.2" fill="#000"/>
<circle cx="979.30" cy="174.70" r="4.2" fill="#000"/>
<circle cx="965.60" cy="134.10" r="4.2" fill="#000"/>
<circle cx="937.20" cy="109.70" r="4.2" fill="#000"/>
<circle cx="902.40" cy="101.10" r="4.2" fill="#000"/>
<circle cx="864.00" cy="112.80" r="4.2" fill="#000"/>
<circle cx="838.40" cy="138.40" r="4.2" fill="#000"/>
<circle cx="828.30" cy="172.90" r="4.2" fill="#000"/>
<circle cx="834.70" cy="214.10" r="4.2" fill="#000"/>
<path d="M864,112.8 L879.6,139" stroke="#000" stroke-width="2.5" fill="none" />
<path d="M838.4,138.4 L864.9,151.8" stroke="#000" stroke-width="2.5" fill="none" />
<path d="M828.3,172.9 L857.6,172.9" stroke="#000" stroke-width="2.5" fill="none" />
<path d="M834.7,214.1 L860.3,198.5" stroke="#000" stroke-width="2.5" fill="none" />
<path d="M946.4,245.2 L927.1,222.3" stroke="#000" stroke-width="2.5" fill="none" />
<path d="M971.1,216.4 L945.4,203" stroke="#000" stroke-width="2.5" fill="none" />
<path d="M979.3,174.7 L946.4,174.7" stroke="#000" stroke-width="2.5" fill="none" />
<path d="M965.6,134.1 L940.9,150.9" stroke="#000" stroke-width="2.5" fill="none" />
<path d="M937.2,109.7 L923.5,137.2" stroke="#000" stroke-width="2.5" fill="none" />
<path d="M859.4,242.4 L875,219.5" stroke="#000" stroke-width="2.5" fill="none" />
<path d="M902.4,101.1 L900.6,133 V172.9 V193" stroke="#000" stroke-width="2.5" fill="none" />
<path d="M889.6,193.3 H913.1 M890.1,193 L889.6,198" stroke="#000" stroke-width="2.7" fill="none" />
<path d="M891.1,205.5 L900.8000000000001,194.2 M899.1,205.5 L912.6,193.5 M905.1,206.8 L909.6,202.5" stroke="#000" stroke-width="3.3" fill="none" />
<path d="M901.5,259.8 L900.6,230" stroke="#000" stroke-width="2.5" fill="none" />
<ellipse cx="879.6" cy="139" rx="3.9" ry="4.6" fill="#fff" stroke="#000" stroke-width="2.4"/>
<ellipse cx="864.9" cy="151.8" rx="3.9" ry="4.6" fill="#fff" stroke="#000" stroke-width="2.4"/>
<ellipse cx="857.6" cy="172.9" rx="3.9" ry="4.6" fill="#fff" stroke="#000" stroke-width="2.4"/>
<ellipse cx="860.3" cy="198.5" rx="3.9" ry="4.6" fill="#fff" stroke="#000" stroke-width="2.4"/>
<ellipse cx="927.1" cy="222.3" rx="3.9" ry="4.6" fill="#fff" stroke="#000" stroke-width="2.4"/>
<ellipse cx="945.4" cy="203" rx="3.9" ry="4.6" fill="#fff" stroke="#000" stroke-width="2.4"/>
<ellipse cx="946.4" cy="174.7" rx="3.9" ry="4.6" fill="#fff" stroke="#000" stroke-width="2.4"/>
<ellipse cx="940.9" cy="150.9" rx="3.9" ry="4.6" fill="#fff" stroke="#000" stroke-width="2.4"/>
<ellipse cx="923.5" cy="137.2" rx="3.9" ry="4.6" fill="#fff" stroke="#000" stroke-width="2.4"/>
<ellipse cx="875" cy="219.5" rx="3.9" ry="4.6" fill="#fff" stroke="#000" stroke-width="2.4"/>
<ellipse cx="900.6" cy="133" rx="3.9" ry="4.6" fill="#fff" stroke="#000" stroke-width="2.4"/>
<ellipse cx="900.6" cy="172.9" rx="3.9" ry="4.6" fill="#fff" stroke="#000" stroke-width="2.4"/>
<ellipse cx="900.6" cy="229.6" rx="3.9" ry="4.6" fill="#fff" stroke="#000" stroke-width="2.4"/>
<path d="M1379.8,257.7 H1574.9 V266" stroke="#000" stroke-width="2.5" fill="none" />
<path d="M1564,266.3 H1587.5 M1564.5,266 L1564,271" stroke="#000" stroke-width="2.7" fill="none" />
<path d="M1565.5,278.5 L1575.2,267.2 M1573.5,278.5 L1587,266.5 M1579.5,279.8 L1584,275.5" stroke="#000" stroke-width="3.3" fill="none" />
<path d="M1463,210.8 V258" stroke="#000" stroke-width="2.5" fill="none" />
<path d="M1452.1,225.2 H1474.7 L1463,241.6 Z" fill="#000" stroke="#000" stroke-width="1.2"/>
<path d="M1453,243 H1473" stroke="#000" stroke-width="2.2" fill="none" />
<circle cx="1463.00" cy="258.10" r="3.8" fill="#000"/>
<rect x="1496.5" y="250" width="11.5" height="16" fill="#fff"/>
<path d="M1496.3,269.8 V248.5 L1500,247.3 L1509.2,262.5 V247.3 H1506 V255 L1499.5,245 Z" fill="none"/>
<path d="M1498,270 V248 M1507.2,247.5 V269.5" stroke="#000" stroke-width="3.2" fill="none" />
<path d="M1498,249.5 L1507.2,262.5 M1498,256 L1507.2,268.5" stroke="#000" stroke-width="2.6" fill="none" />
<text transform="translate(1441.93,201.05) scale(0.9460,1)" font-family='"Liberation Sans", sans-serif' font-size="18.02" font-weight="bold" fill="#000" stroke="#000" stroke-width="0.3" stroke-linejoin="round">+5.6V</text>
<text transform="translate(1488.17,236.25) scale(0.9264,1)" font-family='"Liberation Sans", sans-serif' font-size="15.84" font-weight="bold" fill="#000" stroke="#000" stroke-width="0.3" stroke-linejoin="round">BACKUP</text>
<path d="M1379.8,292.4 H1629" stroke="#000" stroke-width="2.5" fill="none" />
<path d="M1610,284.4 L1629,292.4 L1610,300.4" stroke="#000" stroke-width="2.8" fill="none" />
<text transform="translate(1636.64,298.55) scale(1.0020,1)" font-family='"Liberation Sans", sans-serif' font-size="15.12" font-weight="bold" fill="#000" stroke="#000" stroke-width="0.3" stroke-linejoin="round">POWER</text>
<path d="M1379.8,326.2 H1455.6" stroke="#000" stroke-width="2.5" fill="none" />
<path d="M1461.3,311.7 L1483.5,326.2 L1461.3,339.7 Z" fill="#fff" stroke="#000" stroke-width="2.2"/>
<circle cx="1458.80" cy="326.20" r="3.4" fill="#fff" stroke="#000" stroke-width="2.2"/>
<path d="M1483.5,326.2 H1528.3999999999999 M1559.2,326.2 H1597.7" stroke="#000" stroke-width="2.5" fill="none" />
<circle cx="1543.80" cy="325.60" r="15.4" fill="none" stroke="#000" stroke-width="1.8"/>
<path d="M1536.1,318.09999999999997 L1550.8,325.59999999999997 L1536.1,333.09999999999997 Z" fill="#000"/>
<path d="M1551.1,314.59999999999997 V336.59999999999997" stroke="#000" stroke-width="1.8" fill="none" />
<path d="M1561.0,332.79999999999995 L1568.3,337.2 L1567.8,339.59999999999997 L1574.8,343.4" stroke="#000" stroke-width="2.9" fill="none" />
<path d="M1588.3,347.4 L1576.1,336.9 L1572.3,348.4 Z" fill="#000" stroke="#000" stroke-width="0.8" stroke-linejoin="round"/>
<path d="M1579.0,343.2 L1576.8,341.4 L1576.2,343.79999999999995 Z" fill="#fff"/>
<path d="M1379.8,361.8 H1455.6" stroke="#000" stroke-width="2.5" fill="none" />
<path d="M1461.3,347.3 L1483.5,361.8 L1461.3,375.3 Z" fill="#fff" stroke="#000" stroke-width="2.2"/>
<circle cx="1458.80" cy="361.80" r="3.4" fill="#fff" stroke="#000" stroke-width="2.2"/>
<path d="M1483.5,361.8 H1527.3999999999999 M1558.2,361.8 H1596.2" stroke="#000" stroke-width="2.5" fill="none" />
<circle cx="1542.80" cy="361.20" r="15.4" fill="none" stroke="#000" stroke-width="1.8"/>
<path d="M1535.1,353.7 L1549.8,361.2 L1535.1,368.7 Z" fill="#000"/>
<path d="M1550.1,350.2 V372.2" stroke="#000" stroke-width="1.8" fill="none" />
<path d="M1560.0,368.4 L1567.3,372.8 L1566.8,375.2 L1573.8,379.0" stroke="#000" stroke-width="2.9" fill="none" />
<path d="M1587.3,383.0 L1575.1,372.5 L1571.3,384.0 Z" fill="#000" stroke="#000" stroke-width="0.8" stroke-linejoin="round"/>
<path d="M1578.0,378.8 L1575.8,377.0 L1575.2,379.4 Z" fill="#fff"/>
<path d="M1597.7,326.2 L1601,319.2 L1604.5,334.2 L1608,319.2 L1611.5,334.2 L1613.5,326.2 H1680 V334.7" stroke="#000" stroke-width="2.8" fill="none" />
<path d="M1669,335.0 H1692.5 M1669.5,334.7 L1669,339.7" stroke="#000" stroke-width="2.7" fill="none" />
<path d="M1670.5,347.2 L1680.2,335.9 M1678.5,347.2 L1692,335.2 M1684.5,348.5 L1689,344.2" stroke="#000" stroke-width="3.3" fill="none" />
<circle cx="1629.30" cy="326.20" r="3.8" fill="#000"/>
<path d="M1596.2,361.8 L1599.5,354.8 L1603,369.8 L1606.5,354.8 L1610,369.8 L1613,361.8 H1629.3 V326.2" stroke="#000" stroke-width="2.8" fill="none" />
<path d="M1379.8,396.5 H1480 V464.5 H1379.8" stroke="#000" stroke-width="2.5" fill="none" />
<circle cx="1480.00" cy="464.50" r="3.8" fill="#000"/>
<path d="M1480,464.5 V472.6" stroke="#000" stroke-width="2.5" fill="none" />
<path d="M1469,472.90000000000003 H1492.5 M1469.5,472.6 L1469,477.6" stroke="#000" stroke-width="2.7" fill="none" />
<path d="M1470.5,485.1 L1480.2,473.8 M1478.5,485.1 L1492,473.1 M1484.5,486.40000000000003 L1489,482.1" stroke="#000" stroke-width="3.3" fill="none" />
<path d="M1379.8,430.9 H1666.6" stroke="#000" stroke-width="2.5" fill="none" />
<path d="M1666.6,384.9 H1745.1 V475.8 H1666.6 Z" stroke="#000" stroke-width="2.5" fill="none" />
<ellipse cx="1690.8" cy="453.6" rx="8.6" ry="9.6" fill="none" stroke="#000" stroke-width="2"/>
<text transform="translate(1747.30,421.85) scale(0.8665,1)" font-family='"Liberation Sans", sans-serif' font-size="14.68" font-weight="bold" fill="#000" stroke="#000" stroke-width="0.3" stroke-linejoin="round">PHOTO RECEIVING</text>
<text transform="translate(1747.40,441.05) scale(0.8326,1)" font-family='"Liberation Sans", sans-serif' font-size="14.97" font-weight="bold" fill="#000" stroke="#000" stroke-width="0.3" stroke-linejoin="round">UNIT</text>
<path d="M1379.8,499.7 H1633.3 V671.3 H1665.5" stroke="#000" stroke-width="2.5" fill="none" />
<path d="M1379.8,533.5 H1668" stroke="#000" stroke-width="2.5" fill="none" />
<circle cx="1571.30" cy="533.50" r="3.8" fill="#000"/>
<path d="M1571.3,533.5 V546.3" stroke="#000" stroke-width="2.5" fill="none" />
<path d="M1668,511.5 H1802.8 V557.2 H1668 Z" stroke="#000" stroke-width="2.5" fill="none" />
<text transform="translate(1678.31,528.85) scale(0.8918,1)" font-family='"Liberation Sans", sans-serif' font-size="14.10" font-weight="bold" fill="#000" stroke="#000" stroke-width="0.3" stroke-linejoin="round">POWER</text>
<text transform="translate(1678.78,548.35) scale(0.9397,1)" font-family='"Liberation Sans", sans-serif' font-size="13.81" font-weight="bold" fill="#000" stroke="#000" stroke-width="0.3" stroke-linejoin="round">STOPPAGE DET.</text>
<path d="M1379.8,568.2 H1533.3" stroke="#000" stroke-width="2.5" fill="none" />
<path d="M1533.3,546.3 H1611.1 V592 H1533.3 Z" stroke="#000" stroke-width="2.5" fill="none" />
<text transform="translate(1547.65,575.55) scale(0.8776,1)" font-family='"Liberation Sans", sans-serif' font-size="17.01" font-weight="bold" fill="#000" stroke="#000" stroke-width="0.3" stroke-linejoin="round">RESET</text>
<path d="M1379.8,603.8 H1480 V610.4 M1470.2,610.4 H1490.9 M1470.2,626.7 H1490.9 M1480,626.7 V636.8 H1379.8" stroke="#000" stroke-width="2.5" fill="none" />
<rect x="1471.2" y="615.6" width="19" height="7.4" fill="none" stroke="#000" stroke-width="2"/>
<text transform="translate(1498.42,626.48) scale(0.8636,1)" font-family='"Liberation Serif", serif' font-size="19.17" font-weight="bold" fill="#000" stroke="#000" stroke-width="0.45" stroke-linejoin="round">X&#x27;tal</text>
<path d="M1379.8,671.4 H1483.5 V679" stroke="#000" stroke-width="2.5" fill="none" />
<path d="M1472.5,679.3 H1496.0 M1473.0,679 L1472.5,684" stroke="#000" stroke-width="2.7" fill="none" />
<path d="M1474.0,691.5 L1483.7,680.2 M1482.0,691.5 L1495.5,679.5 M1488.0,692.8 L1492.5,688.5" stroke="#000" stroke-width="3.3" fill="none" />
<path d="M1665.3,653.5 H1785.7 V823.6 H1665.3 Z" stroke="#000" stroke-width="2.5" fill="none" />
<path d="M1379.8,705.3 H1665.3" stroke="#000" stroke-width="2.5" fill="none" />
<path d="M1379.8,738.2 H1665.3" stroke="#000" stroke-width="2.5" fill="none" />
<path d="M1379.8,772.9 H1665.3" stroke="#000" stroke-width="2.5" fill="none" />
<path d="M1379.8,807.6 H1665.3" stroke="#000" stroke-width="2.5" fill="none" />
<text transform="translate(1689.35,743.65) scale(0.9177,1)" font-family='"Liberation Sans", sans-serif' font-size="16.28" font-weight="bold" fill="#000" stroke="#000" stroke-width="0.3" stroke-linejoin="round">ENCODER</text>
<path d="M1606.2,840.6 V942.7" stroke="#000" stroke-width="2.5" fill="none" />
<path d="M1379.8,840.6 H1606.2" stroke="#000" stroke-width="2.5" fill="none" />
<circle cx="1518.90" cy="839.80" r="15.4" fill="none" stroke="#000" stroke-width="1.8"/>
<path d="M1526.6000000000001,832.3000000000001 L1511.9,839.8000000000001 L1526.6000000000001,847.3000000000001 Z" fill="#000"/>
<path d="M1511.6000000000001,828.8000000000001 V850.8000000000001" stroke="#000" stroke-width="1.8" fill="none" />
<path d="M1536.1000000000001,847.0000000000001 L1543.4,851.4000000000001 L1542.9,853.8000000000001 L1549.9,857.6" stroke="#000" stroke-width="2.9" fill="none" />
<path d="M1563.4,861.6 L1551.2,851.1 L1547.4,862.6 Z" fill="#000" stroke="#000" stroke-width="0.8" stroke-linejoin="round"/>
<path d="M1554.1000000000001,857.4000000000001 L1551.9,855.6 L1551.3000000000002,858.0000000000001 Z" fill="#fff"/>
<path d="M1379.8,874.4 H1606.2" stroke="#000" stroke-width="2.5" fill="none" />
<circle cx="1518.90" cy="873.60" r="15.4" fill="none" stroke="#000" stroke-width="1.8"/>
<path d="M1526.6000000000001,866.1 L1511.9,873.6 L1526.6000000000001,881.1 Z" fill="#000"/>
<path d="M1511.6000000000001,862.6 V884.6" stroke="#000" stroke-width="1.8" fill="none" />
<path d="M1536.1000000000001,880.8000000000001 L1543.4,885.2 L1542.9,887.6 L1549.9,891.4" stroke="#000" stroke-width="2.9" fill="none" />
<path d="M1563.4,895.4 L1551.2,884.9 L1547.4,896.4 Z" fill="#000" stroke="#000" stroke-width="0.8" stroke-linejoin="round"/>
<path d="M1554.1000000000001,891.2 L1551.9,889.4 L1551.3000000000002,891.8000000000001 Z" fill="#fff"/>
<path d="M1379.8,908.2 H1606.2" stroke="#000" stroke-width="2.5" fill="none" />
<circle cx="1519.40" cy="907.40" r="15.4" fill="none" stroke="#000" stroke-width="1.8"/>
<path d="M1527.1000000000001,899.9000000000001 L1512.4,907.4000000000001 L1527.1000000000001,914.9000000000001 Z" fill="#000"/>
<path d="M1512.1000000000001,896.4000000000001 V918.4000000000001" stroke="#000" stroke-width="1.8" fill="none" />
<path d="M1536.6000000000001,914.6000000000001 L1543.9,919.0000000000001 L1543.4,921.4000000000001 L1550.4,925.2" stroke="#000" stroke-width="2.9" fill="none" />
<path d="M1563.9,929.2 L1551.7,918.7 L1547.9,930.2 Z" fill="#000" stroke="#000" stroke-width="0.8" stroke-linejoin="round"/>
<path d="M1554.6000000000001,925.0000000000001 L1552.4,923.2 L1551.8000000000002,925.6000000000001 Z" fill="#fff"/>
<path d="M1379.8,942.7 H1606.2" stroke="#000" stroke-width="2.5" fill="none" />
<circle cx="1519.40" cy="941.90" r="15.4" fill="none" stroke="#000" stroke-width="1.8"/>
<path d="M1527.1000000000001,934.4000000000001 L1512.4,941.9000000000001 L1527.1000000000001,949.4000000000001 Z" fill="#000"/>
<path d="M1512.1000000000001,930.9000000000001 V952.9000000000001" stroke="#000" stroke-width="1.8" fill="none" />
<path d="M1536.6000000000001,949.1000000000001 L1543.9,953.5000000000001 L1543.4,955.9000000000001 L1550.4,959.7" stroke="#000" stroke-width="2.9" fill="none" />
<path d="M1563.9,963.7 L1551.7,953.2 L1547.9,964.7 Z" fill="#000" stroke="#000" stroke-width="0.8" stroke-linejoin="round"/>
<path d="M1554.6000000000001,959.5000000000001 L1552.4,957.7 L1551.8000000000002,960.1000000000001 Z" fill="#fff"/>
<circle cx="1606.20" cy="874.40" r="3.8" fill="#000"/>
<circle cx="1606.20" cy="893.50" r="3.8" fill="#000"/>
<circle cx="1606.20" cy="909.70" r="3.8" fill="#000"/>
<path d="M1606.2,893.5 H1664.3" stroke="#000" stroke-width="2.5" fill="none" />
<path d="M1644.7,885.3 L1664.3,893.5 L1644.7,901.7" stroke="#000" stroke-width="2.8" fill="none" />
<text transform="translate(1672.94,897.75) scale(1.0086,1)" font-family='"Liberation Sans", sans-serif' font-size="16.86" font-weight="bold" fill="#000" stroke="#000" stroke-width="0.3" stroke-linejoin="round">+5V</text>
</svg></body></html>
